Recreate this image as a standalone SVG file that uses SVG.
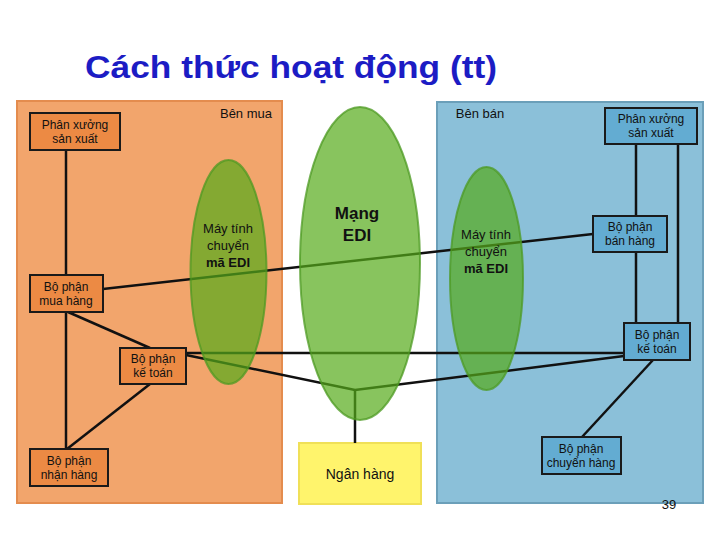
<svg xmlns="http://www.w3.org/2000/svg" width="720" height="540" viewBox="0 0 720 540">
<style>
.t{font-family:"Liberation Sans",Arial,sans-serif;fill:#111;text-anchor:middle}
.s12{font-size:12px}
.s13{font-size:13px}
.b{font-weight:bold}
.ob{fill:#ec8a44;stroke:#1a1a1a;stroke-width:2}
.bb{fill:#63acd2;stroke:#1a1a1a;stroke-width:2}
.ln{stroke:#111;stroke-width:2.5;fill:none}
.el{fill:#56ab19;fill-opacity:0.7;stroke:#4c9a22;stroke-opacity:0.75;stroke-width:2}
</style>
<rect width="720" height="540" fill="#fff"/>
<text x="85" y="78" font-family="Liberation Sans,Arial,sans-serif" font-weight="bold" font-size="32" fill="#1c1cc4" textLength="412" lengthAdjust="spacingAndGlyphs">Cách thức hoạt động (tt)</text>
<g id="panel-buyer"><rect x="17" y="101" width="265" height="402" fill="#f2a56c" stroke="#e48c4e" stroke-width="2"/>
<text class="t s13" x="246" y="118">Bên mua</text></g>
<g id="panel-seller"><rect x="437" y="102" width="266" height="401" fill="#8bc0d9" stroke="#6b9fb9" stroke-width="2"/>
<text class="t s13" x="480" y="118">Bên bán</text></g>
<g id="bank"><rect x="299" y="443" width="122" height="61" fill="#fff46c" stroke="#f0e058" stroke-width="2"/>
<text class="t" font-size="14" x="360" y="479">Ngân hàng</text></g>
<g id="connectors">
<line class="ln" x1="66" y1="150" x2="66" y2="275"/>
<line class="ln" x1="66" y1="312" x2="66" y2="449"/>
<line class="ln" x1="68" y1="312" x2="150" y2="348"/>
<line class="ln" x1="150" y1="384" x2="67" y2="449"/>
<line class="ln" x1="103" y1="289" x2="593" y2="234"/>
<line class="ln" x1="186" y1="353" x2="624" y2="353"/>
<polyline class="ln" points="186,355 355,390 624,356"/>
<line class="ln" x1="355" y1="390" x2="355" y2="443"/>
<line class="ln" x1="636" y1="144" x2="636" y2="216"/>
<line class="ln" x1="636" y1="252" x2="636" y2="323"/>
<line class="ln" x1="678" y1="144" x2="678" y2="323"/>
<line class="ln" x1="653" y1="360" x2="582" y2="437"/>
</g>
<g id="edi-network"><ellipse class="el" cx="360" cy="263.5" rx="60" ry="156.5"/>
<text class="t b" font-size="17" x="357" y="219">Mạng</text>
<text class="t b" font-size="17" x="357" y="241">EDI</text></g>
<g id="buyer-edi"><ellipse class="el" cx="228.5" cy="272" rx="38" ry="112"/>
<text class="t s13" x="228" y="233">Máy tính</text>
<text class="t s13" x="228" y="250">chuyển</text>
<text class="t s13 b" x="228" y="267">mã EDI</text></g>
<g id="seller-edi"><ellipse class="el" cx="486.5" cy="278.5" rx="36.5" ry="111.5"/>
<text class="t s13" x="486" y="239">Máy tính</text>
<text class="t s13" x="486" y="256">chuyển</text>
<text class="t s13 b" x="486" y="273">mã EDI</text></g>
<g id="b-production"><rect class="ob" x="30" y="113" width="90" height="37"/>
<text class="t s12" x="75" y="129">Phân xưởng</text><text class="t s12" x="75" y="143">sản xuất</text></g>
<g id="b-purchasing"><rect class="ob" x="30" y="275" width="73" height="37"/>
<text class="t s12" x="66" y="291">Bộ phận</text><text class="t s12" x="66" y="305">mua hàng</text></g>
<g id="b-accounting"><rect class="ob" x="120" y="348" width="66" height="36"/>
<text class="t s12" x="153" y="363">Bộ phận</text><text class="t s12" x="153" y="377">kế toán</text></g>
<g id="b-receiving"><rect class="ob" x="30" y="449" width="78" height="37"/>
<text class="t s12" x="69" y="465">Bộ phận</text><text class="t s12" x="69" y="479">nhận hàng</text></g>
<g id="s-production"><rect class="bb" x="605" y="108" width="92" height="36"/>
<text class="t s12" x="651" y="123">Phân xưởng</text><text class="t s12" x="651" y="137">sản xuất</text></g>
<g id="s-sales"><rect class="bb" x="593" y="216" width="74" height="36"/>
<text class="t s12" x="630" y="231">Bộ phận</text><text class="t s12" x="630" y="245">bán hàng</text></g>
<g id="s-accounting"><rect class="bb" x="624" y="323" width="66" height="37"/>
<text class="t s12" x="657" y="339">Bộ phận</text><text class="t s12" x="657" y="353">kế toán</text></g>
<g id="s-shipping"><rect class="bb" x="542" y="437" width="79" height="37"/>
<text class="t s12" x="581" y="453">Bộ phận</text><text class="t s12" x="581" y="467">chuyển hàng</text></g>
<text class="t s13" x="669" y="509">39</text>
</svg>
